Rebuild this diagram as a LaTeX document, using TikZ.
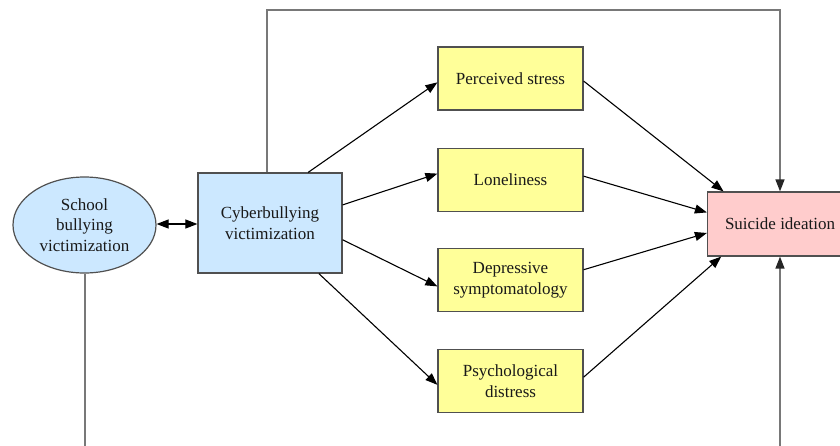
\documentclass[tikz,border=0pt]{standalone}
\usepackage{fontspec}
\setmainfont{Liberation Serif}
\usetikzlibrary{shapes.geometric,arrows.meta}
\definecolor{boxyellow}{HTML}{FFFF99}
\definecolor{boxblue}{HTML}{CCE8FF}
\definecolor{boxpink}{HTML}{FFCCCC}
\definecolor{edgegrey}{HTML}{505050}
\definecolor{linkgrey}{HTML}{787878}
\begin{document}
\begin{tikzpicture}[x=1pt,y=-1pt,
  base/.style={draw=edgegrey,line width=1.2pt,align=center,inner sep=2pt,
    font=\fontsize{17}{20.5}\selectfont,text=black!90},
  medbox/.style={base,rectangle,fill=boxyellow,minimum width=145pt,minimum height=63pt},
  cyberbox/.style={base,rectangle,fill=boxblue,minimum width=144pt,minimum height=100pt},
  schoolell/.style={base,ellipse,fill=boxblue,inner sep=0pt,minimum width=143pt,minimum height=96pt},
  outbox/.style={base,rectangle,fill=boxpink,minimum width=145pt,minimum height=64pt},
  tip/.tip={Triangle[length=12pt,width=9pt]},
  path arrow/.style={draw=black,line width=1.1pt,-tip},
  link arrow/.style={draw=linkgrey,line width=1.4pt,-{Triangle[length=12pt,width=9pt,color=black!85]}},
]
\useasboundingbox (0,0) rectangle (840,445);
\clip (0,0) rectangle (840,445);

\node[schoolell] (school) at (84.5,225) {School\\bullying\\victimization};
\node[cyberbox] (cyber) at (270,223) {Cyberbullying\\victimization};
\node[medbox] (stress) at (510.5,78.5) {Perceived stress};
\node[medbox] (lonely) at (510.5,180) {Loneliness};
\node[medbox] (depress) at (510.5,280) {Depressive\\symptomatology};
\node[medbox] (psych) at (510.5,381) {Psychological\\distress};
\node[outbox] (suicide) at (780,224) {Suicide ideation};

\coordinate (topright) at (780,10);
\coordinate (botright) at (780,470);

% top and bottom links
\draw[link arrow] ([xshift=-3pt]cyber.north) |- (topright) -- (suicide.north);
\draw[link arrow] ([xshift=0.5pt]school.south) |- (botright) -- (suicide.south);

% double arrow
\draw[draw=black,line width=1.1pt,tip-tip]
  ([yshift=1pt]school.east) -- ([yshift=1pt]school.east -| cyber.west);

% cyberbullying -> mediators
\draw[path arrow] (cyber.53) -- (stress.183);
\draw[path arrow] (cyber.14) -- (lonely.175);
\draw[path arrow] (cyber.-13) -- (depress.185);
\draw[path arrow] (cyber.-46) -- (psych.183);

% mediators -> suicide ideation
\draw[path arrow] (stress.358) -- (suicide.150);
\draw[path arrow] (lonely.3) -- (suicide.171);
\draw[path arrow] (depress.8) -- (suicide.187);
\draw[path arrow] (psych.3) -- (suicide.209);
\end{tikzpicture}
\end{document}
